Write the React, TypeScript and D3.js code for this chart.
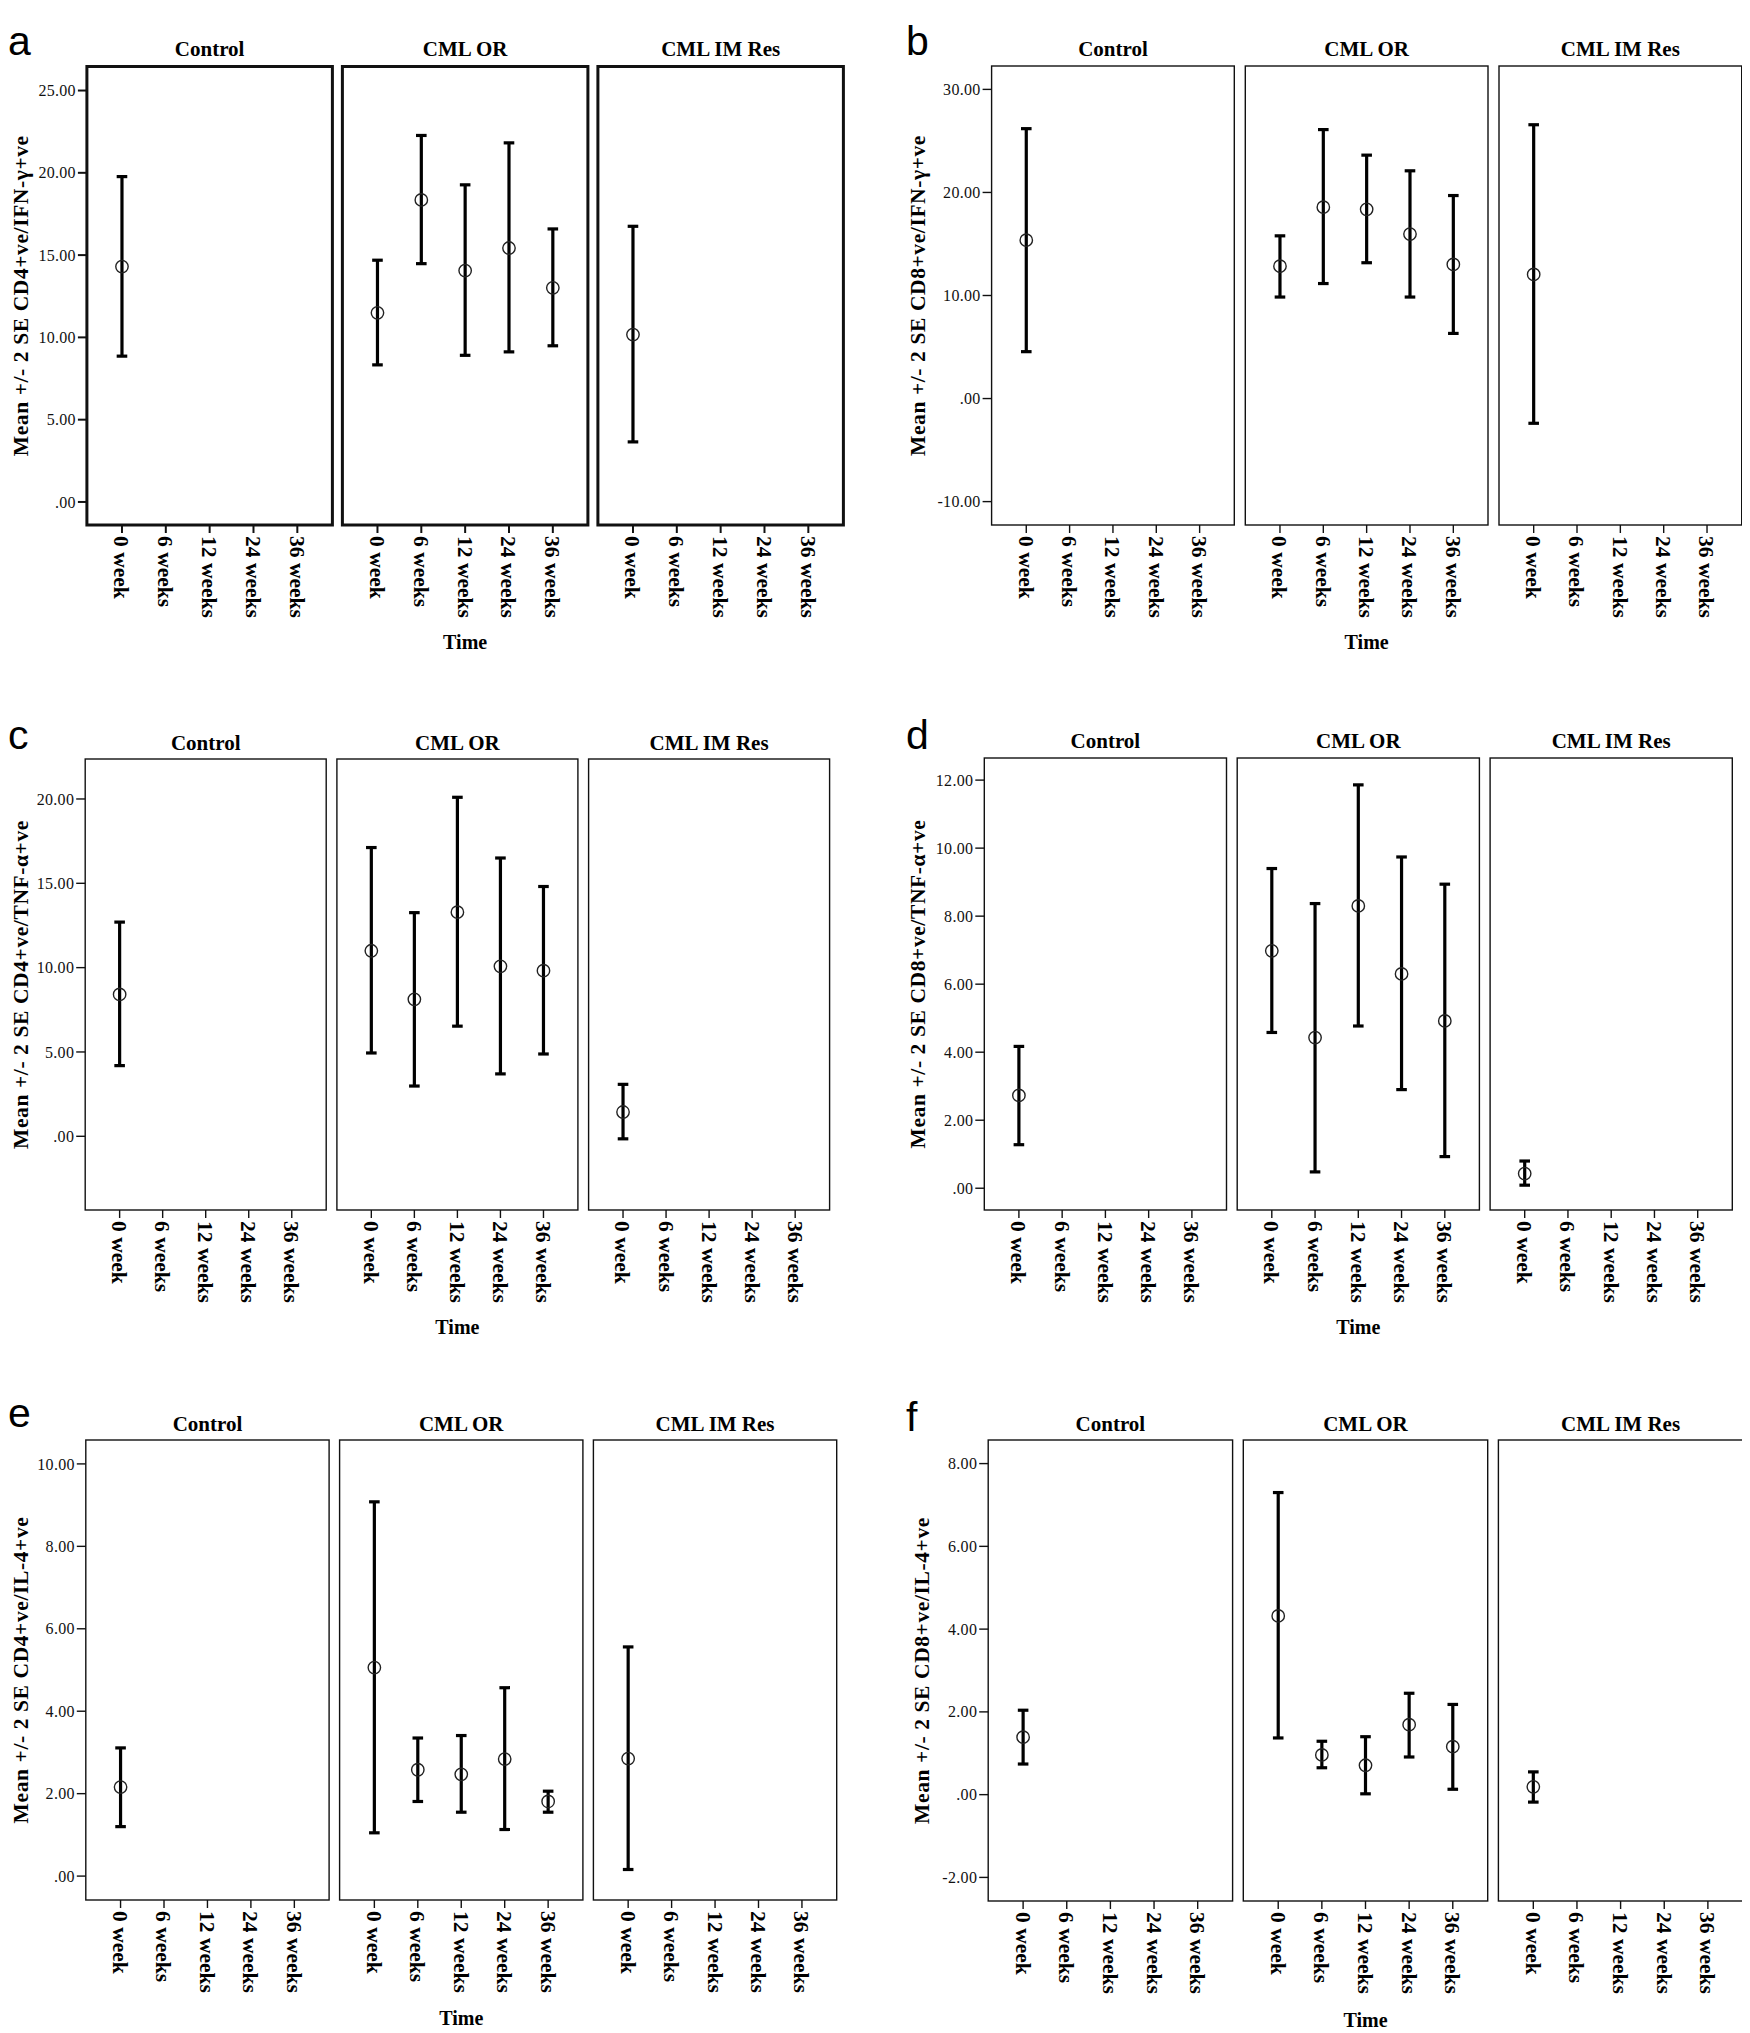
import React from "react";
import * as d3 from "d3";

// ---------- categories ----------
const groups = ["Control", "CML OR", "CML IM Res"];
const times = ["0 week", "6 weeks", "12 weeks", "24 weeks", "36 weeks"];

// which facet / time each plotted mean belongs to
const pointGroup = ["Control", "CML OR", "CML OR", "CML OR", "CML OR", "CML OR", "CML IM Res"];
const pointTime = ["0 week", "0 week", "6 weeks", "12 weeks", "24 weeks", "36 weeks", "0 week"];

// ---------- panel a: CD4+ve/IFN-γ+ve ----------
const aMean = [14.3, 11.49, 18.35, 14.06, 15.43, 13.01, 10.17];
const aLow = [8.86, 8.33, 14.48, 8.91, 9.12, 9.49, 3.65];
const aHigh = [19.77, 14.69, 22.27, 19.27, 21.82, 16.59, 16.75];
const aTicks = [0, 5, 10, 15, 20, 25];

// ---------- panel b: CD8+ve/IFN-γ+ve ----------
const bMean = [15.37, 12.84, 18.57, 18.36, 15.96, 13.01, 12.04];
const bLow = [4.55, 9.85, 11.16, 13.18, 9.85, 6.32, -2.4];
const bHigh = [26.19, 15.79, 26.1, 23.62, 22.1, 19.7, 26.57];
const bTicks = [-10, 0, 10, 20, 30];

// ---------- panel c: CD4+ve/TNF-α+ve ----------
const cMean = [8.41, 11.0, 8.12, 13.29, 10.08, 9.82, 1.44];
const cLow = [4.19, 4.94, 2.98, 6.53, 3.7, 4.88, -0.15];
const cHigh = [12.7, 17.12, 13.26, 20.1, 16.5, 14.81, 3.08];
const cTicks = [0, 5, 10, 15, 20];

// ---------- panel d: CD8+ve/TNF-α+ve ----------
const dMean = [2.73, 6.98, 4.43, 8.3, 6.3, 4.92, 0.43];
const dLow = [1.28, 4.58, 0.48, 4.77, 2.9, 0.93, 0.09];
const dHigh = [4.17, 9.4, 8.37, 11.86, 9.74, 8.94, 0.8];
const dTicks = [0, 2, 4, 6, 8, 10, 12];

// ---------- panel e: CD4+ve/IL-4+ve ----------
const eMean = [2.16, 5.06, 2.58, 2.47, 2.84, 1.81, 2.85];
const eLow = [1.2, 1.05, 1.81, 1.55, 1.13, 1.55, 0.16];
const eHigh = [3.11, 9.08, 3.35, 3.41, 4.57, 2.06, 5.56];
const eTicks = [0, 2, 4, 6, 8, 10];

// ---------- panel f: CD8+ve/IL-4+ve ----------
const fMean = [1.39, 4.32, 0.96, 0.71, 1.69, 1.16, 0.19];
const fLow = [0.74, 1.37, 0.65, 0.02, 0.91, 0.13, -0.18];
const fHigh = [2.04, 7.3, 1.29, 1.4, 2.45, 2.18, 0.55];
const fTicks = [-2, 0, 2, 4, 6, 8];

// ---------- labels ----------
const panelLetters = ["a", "b", "c", "d", "e", "f"];
const yTitles = [
  "Mean +/- 2 SE CD4+ve/IFN-γ+ve",
  "Mean +/- 2 SE CD8+ve/IFN-γ+ve",
  "Mean +/- 2 SE CD4+ve/TNF-α+ve",
  "Mean +/- 2 SE CD8+ve/TNF-α+ve",
  "Mean +/- 2 SE CD4+ve/IL-4+ve",
  "Mean +/- 2 SE CD8+ve/IL-4+ve",
];
const xTitle = "Time";
const yDomains = [
  [-1.4, 26.46],
  [-12.27, 32.27],
  [-4.37, 22.37],
  [-0.64, 12.65],
  [-0.58, 10.58],
  [-2.57, 8.57],
];

const means = [aMean, bMean, cMean, dMean, eMean, fMean];
const lows = [aLow, bLow, cLow, dLow, eLow, fLow];
const highs = [aHigh, bHigh, cHigh, dHigh, eHigh, fHigh];
const tickSets = [aTicks, bTicks, cTicks, dTicks, eTicks, fTicks];

// ---------- layout (positions / styles only) ----------
type Layout = {
  x0: number; w: number; gap: number; top: number; bottom: number;
  frameStroke: number; letterX: number; letterY: number;
  titleY: number; yTitleX: number; timeY: number;
};
const layouts: Layout[] = [
  { x0: 86.9, w: 245.5, gap: 10, top: 66.5, bottom: 525, frameStroke: 3, letterX: 8, letterY: 55, titleY: 56, yTitleX: 20, timeY: 649 },
  { x0: 991.6, w: 242.7, gap: 11, top: 66, bottom: 525, frameStroke: 1.4, letterX: 906, letterY: 55, titleY: 56, yTitleX: 917, timeY: 649 },
  { x0: 85.2, w: 241, gap: 10.7, top: 759, bottom: 1210, frameStroke: 1.4, letterX: 8, letterY: 749, titleY: 750, yTitleX: 20, timeY: 1334 },
  { x0: 984.3, w: 242.2, gap: 10.7, top: 758, bottom: 1210, frameStroke: 1.4, letterX: 906, letterY: 749, titleY: 748, yTitleX: 917, timeY: 1334 },
  { x0: 85.8, w: 243.3, gap: 10.5, top: 1440, bottom: 1900, frameStroke: 1.4, letterX: 8, letterY: 1427, titleY: 1431, yTitleX: 20, timeY: 2025 },
  { x0: 988.2, w: 244.4, gap: 10.7, top: 1440, bottom: 1901, frameStroke: 1.4, letterX: 906, letterY: 1431, titleY: 1431, yTitleX: 921, timeY: 2027 },
];

const SERIF = "'Liberation Serif', 'Times New Roman', serif";
const SANS = "'Liberation Sans', Arial, sans-serif";

const fmtTick = (v: number) => {
  const s = d3.format(".2f")(v);
  return s.replace(/^0\./, ".").replace(/^−/, "-");
};

function Panel({ i }: { i: number }) {
  const L = layouts[i];
  const totalW = 3 * L.w + 2 * L.gap;
  const fx = d3
    .scaleBand<string>()
    .domain(groups)
    .range([L.x0, L.x0 + totalW])
    .paddingInner(L.gap / (L.w + L.gap))
    .paddingOuter(0);
  const px = d3.scalePoint<string>().domain(times).range([0, fx.bandwidth()]).padding(0.8);
  const y = d3.scaleLinear().domain(yDomains[i]).range([L.bottom, L.top]);
  const bw = fx.bandwidth();
  const thick = L.frameStroke > 2;
  const capHalf = 5.3;

  return (
    <g>
      <text x={L.letterX} y={L.letterY} fontFamily={SANS} fontSize={41} fill="#000">
        {panelLetters[i]}
      </text>
      {groups.map((g) => (
        <g key={g}>
          <text
            x={(fx(g) as number) + bw / 2}
            y={L.titleY}
            textAnchor="middle"
            fontFamily={SERIF}
            fontWeight="bold"
            fontSize={21}
            fill="#000"
          >
            {g}
          </text>
          <rect
            x={fx(g)}
            y={L.top}
            width={bw}
            height={L.bottom - L.top}
            fill="none"
            stroke="#111"
            strokeWidth={L.frameStroke}
          />
          {times.map((t) => {
            const xx = (fx(g) as number) + (px(t) as number);
            return (
              <g key={t}>
                <line x1={xx} x2={xx} y1={L.bottom} y2={L.bottom + 8} stroke="#111" strokeWidth={thick ? 2 : 1.4} />
                <text
                  transform={`translate(${xx},${L.bottom + 11}) rotate(90)`}
                  dy="0.35em"
                  textAnchor="start"
                  fontFamily={SERIF}
                  fontWeight="bold"
                  fontSize={21.5}
                  fill="#000"
                >
                  {t}
                </text>
              </g>
            );
          })}
        </g>
      ))}
      {/* y axis */}
      {tickSets[i].map((v) => (
        <g key={v}>
          <line x1={L.x0 - 9} x2={L.x0} y1={y(v)} y2={y(v)} stroke="#111" strokeWidth={thick ? 2 : 1.4} />
          <text
            x={L.x0 - 11}
            y={y(v)}
            dy="0.35em"
            textAnchor="end"
            fontFamily={SERIF}
            fontSize={16}
            letterSpacing={0.3}
            fill="#111"
          >
            {fmtTick(v)}
          </text>
        </g>
      ))}
      <text
        transform={`translate(${L.yTitleX},${(L.top + L.bottom) / 2}) rotate(-90)`}
        dy="0.35em"
        textAnchor="middle"
        fontFamily={SERIF}
        fontWeight="bold"
        fontSize={21.5}
        letterSpacing={0.6}
        fill="#000"
      >
        {yTitles[i]}
      </text>
      <text
        x={(fx("CML OR") as number) + bw / 2}
        y={L.timeY}
        textAnchor="middle"
        fontFamily={SERIF}
        fontWeight="bold"
        fontSize={20}
        fill="#000"
      >
        {xTitle}
      </text>
      {/* error bars */}
      {means[i].map((m, k) => {
        const xx = (fx(pointGroup[k]) as number) + (px(pointTime[k]) as number);
        const yl = y(lows[i][k]);
        const yh = y(highs[i][k]);
        return (
          <g key={k}>
            <line x1={xx} x2={xx} y1={yl} y2={yh} stroke="#000" strokeWidth={3.2} />
            <line x1={xx - capHalf} x2={xx + capHalf} y1={yh} y2={yh} stroke="#000" strokeWidth={3.2} />
            <line x1={xx - capHalf} x2={xx + capHalf} y1={yl} y2={yl} stroke="#000" strokeWidth={3.2} />
            <circle cx={xx} cy={y(m)} r={6.2} fill="none" stroke="#222" strokeWidth={1.4} />
          </g>
        );
      })}
    </g>
  );
}

export default function App() {
  return (
    <svg width={1750} height={2033} style={{ display: "block", background: "#fff", marginTop: -8, marginLeft: -8 }}>
      <rect x={0} y={0} width={1750} height={2033} fill="#fff" />
      {layouts.map((_, i) => (
        <Panel key={i} i={i} />
      ))}
    </svg>
  );
}
